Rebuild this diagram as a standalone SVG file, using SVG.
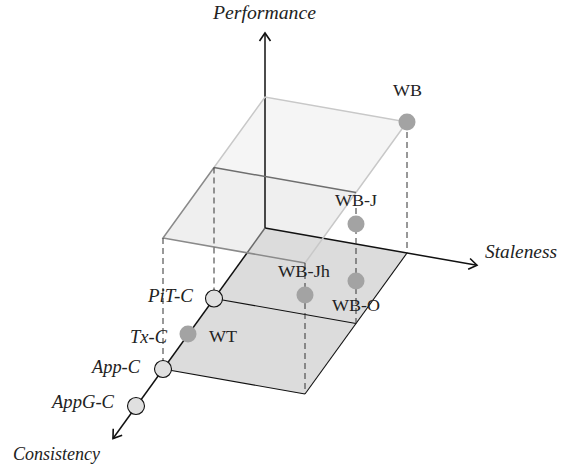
<svg xmlns="http://www.w3.org/2000/svg" width="563" height="465" viewBox="0 0 563 465">
<defs>
<style>
.axis{stroke:#111;stroke-width:1.5;fill:none}
.edge{stroke:#111;stroke-width:1.1;fill:none}
.dash{stroke:#333;stroke-width:1;stroke-dasharray:6 4;fill:none}
.dot{fill:#a3a3a3}
.circ{fill:#e0e0e0;stroke:#111;stroke-width:1.1}
text{font-family:'Liberation Serif',serif;fill:#222}
.lbl{font-size:17px}
.it{font-size:18px;font-style:italic}
</style>
<marker id="arr" markerUnits="userSpaceOnUse" markerWidth="20" markerHeight="20" refX="10" refY="10" orient="auto" viewBox="0 0 20 20">
<path d="M2,4.5 L10,10 L2,15.5" fill="none" stroke="#111" stroke-width="1.6"/>
</marker>
</defs>
<rect width="563" height="465" fill="#fff"/>
<g id="top-plane">
<polygon points="265,97 407,122 356,192.5 214,167.5" fill="#f5f5f5"/>
<polygon points="214,167.5 356,192.5 305,263 163,238" fill="#efefef"/>
</g>
<g id="bottom-plane">
<polygon points="265,228 407,253 305,394 163,369" fill="#dcdcdc"/>
</g>
<g id="connectors">
<line class="axis" x1="265" y1="228" x2="265" y2="33" marker-end="url(#arr)"/>
<line class="axis" x1="265" y1="228" x2="477" y2="265.3" marker-end="url(#arr)"/>
<line x1="265" y1="228" x2="247" y2="253" stroke="#6a6a6a" stroke-width="1.5"/>
<line class="axis" x1="247" y1="253" x2="113" y2="438.5" marker-end="url(#arr)"/>
<line class="edge" x1="214" y1="298.5" x2="356" y2="323.5"/>
<line class="edge" x1="163" y1="369" x2="305" y2="394"/>
<line class="edge" x1="407" y1="253" x2="305" y2="394"/>
<polyline points="214,167.5 265,97 407,122 305,263" fill="none" stroke="#c8c8c8" stroke-width="1.5"/>
<line x1="214" y1="167.5" x2="356" y2="192.5" stroke="#6e6e6e" stroke-width="1.5"/>
<polyline points="214,167.5 163,238 305,263" fill="none" stroke="#8a8a8a" stroke-width="1.5"/>
<line class="dash" x1="163" y1="238" x2="163" y2="362"/>
<line class="dash" x1="214" y1="167.5" x2="214" y2="291"/>
<line class="dash" x1="305" y1="263" x2="305" y2="394"/>
<line class="dash" x1="356" y1="208" x2="356" y2="323.5"/>
<line class="dash" x1="407" y1="122" x2="407" y2="253"/>
</g>
<g id="WB"><circle class="dot" cx="407" cy="122" r="8.5"/><text class="lbl" x="393" y="96" textLength="29" lengthAdjust="spacingAndGlyphs">WB</text></g>
<g id="WB-J"><circle class="dot" cx="356" cy="224" r="8.5"/><text class="lbl" x="335" y="206" textLength="42" lengthAdjust="spacingAndGlyphs">WB-J</text></g>
<g id="WB-O"><circle class="dot" cx="356" cy="281" r="8.5"/><text class="lbl" x="332" y="311" textLength="48" lengthAdjust="spacingAndGlyphs">WB-O</text></g>
<g id="WB-Jh"><circle class="dot" cx="305" cy="295" r="8.5"/><text class="lbl" x="278" y="277" textLength="52" lengthAdjust="spacingAndGlyphs">WB-Jh</text></g>
<g id="WT"><circle class="dot" cx="188" cy="334" r="8.5"/><text class="lbl" x="209" y="342" textLength="28" lengthAdjust="spacingAndGlyphs">WT</text></g>
<g id="PiT-C"><circle class="circ" cx="214" cy="298.5" r="8.5"/><text class="it" x="148" y="302" textLength="45" lengthAdjust="spacingAndGlyphs">PiT-C</text></g>
<g id="Tx-C"><text class="it" x="130" y="343" textLength="37" lengthAdjust="spacingAndGlyphs">Tx-C</text></g>
<g id="App-C"><circle class="circ" cx="163" cy="369" r="8.5"/><text class="it" x="92" y="373" textLength="48" lengthAdjust="spacingAndGlyphs">App-C</text></g>
<g id="AppG-C"><circle class="circ" cx="136" cy="406" r="8.5"/><text class="it" x="52" y="408" textLength="62" lengthAdjust="spacingAndGlyphs">AppG-C</text></g>
<g id="axis-labels">
<text class="it" x="213" y="19" textLength="103" lengthAdjust="spacingAndGlyphs">Performance</text>
<text class="it" x="485" y="258" textLength="72" lengthAdjust="spacingAndGlyphs">Staleness</text>
<text class="it" x="13" y="460" textLength="87" lengthAdjust="spacingAndGlyphs">Consistency</text>
</g>
</svg>
